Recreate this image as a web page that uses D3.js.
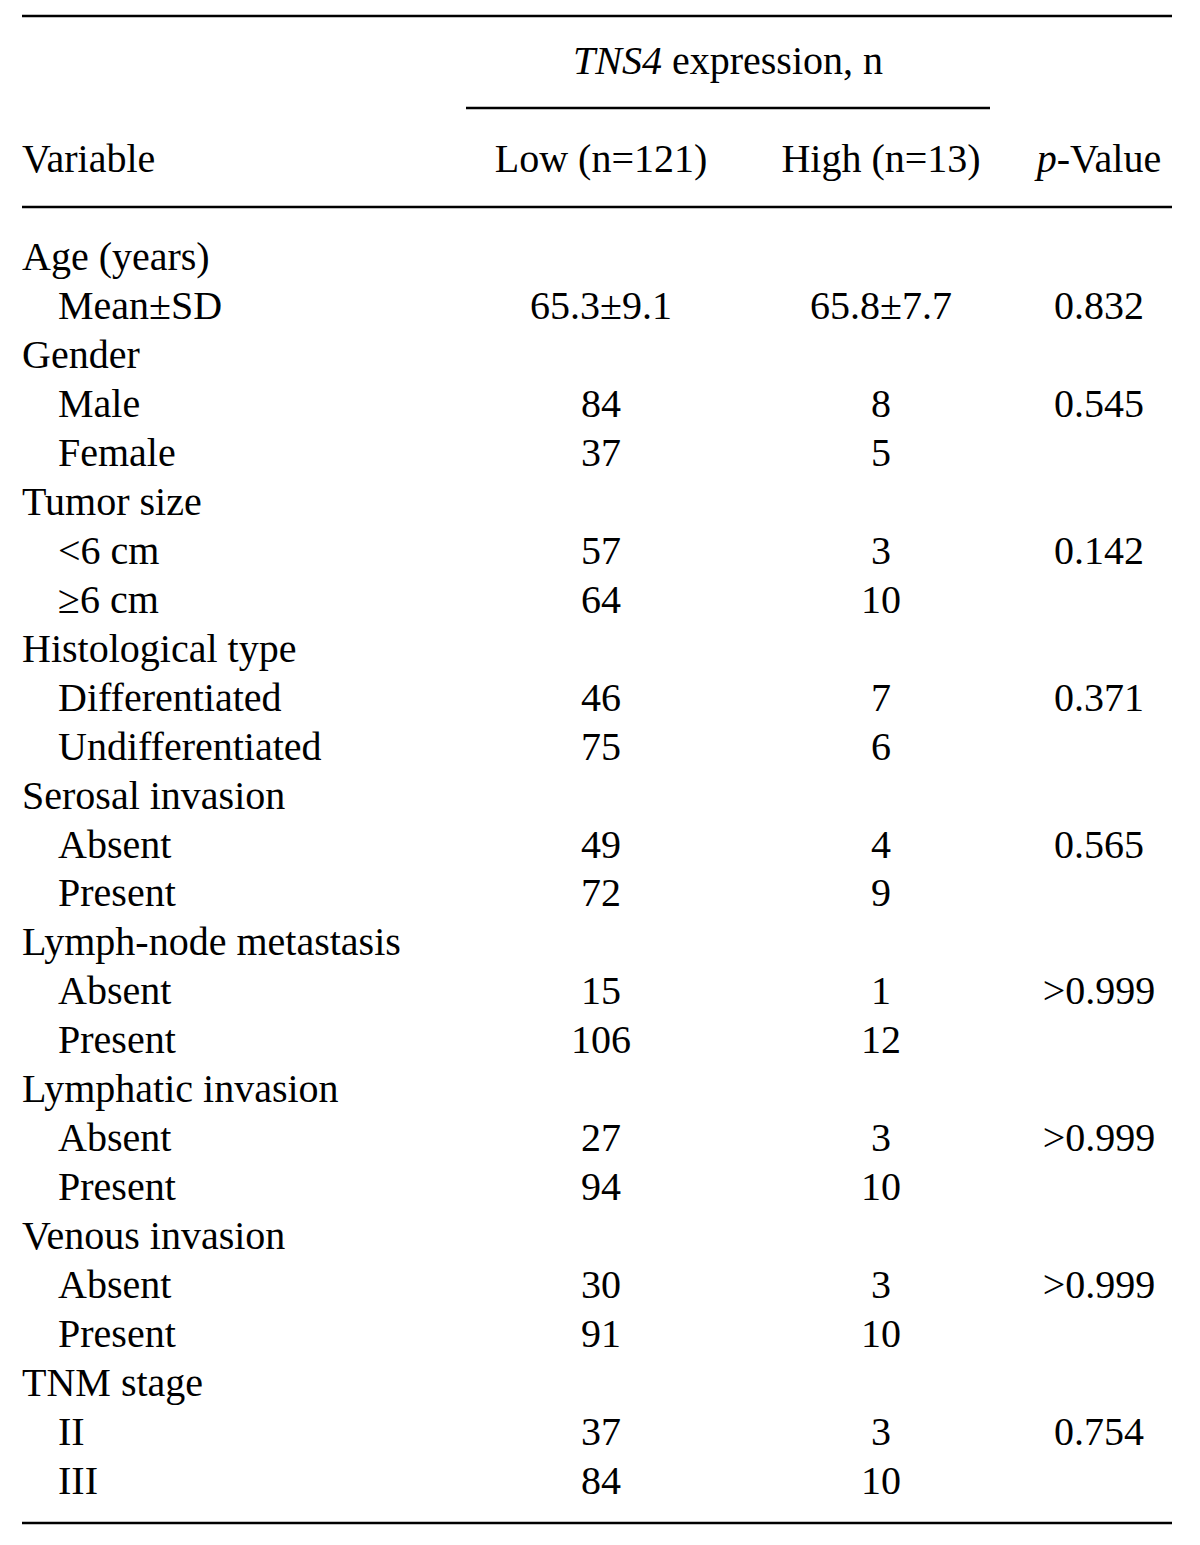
<!DOCTYPE html>
<html><head><meta charset="utf-8">
<script src="https://cdn.jsdelivr.net/npm/d3@7"></script>
<style>html,body{margin:0;padding:0;background:#fff;}svg{display:block;}</style>
</head><body>
<script>
const rowLabels = ["Age (years)","Mean±SD","Gender","Male","Female","Tumor size","<6 cm","≥6 cm","Histological type","Differentiated","Undifferentiated","Serosal invasion","Absent","Present","Lymph-node metastasis","Absent","Present","Lymphatic invasion","Absent","Present","Venous invasion","Absent","Present","TNM stage","II","III"];
const rowIsSub = [0,1,0,1,1,0,1,1,0,1,1,0,1,1,0,1,1,0,1,1,0,1,1,0,1,1];
const lowValues = ["","65.3±9.1","","84","37","","57","64","","46","75","","49","72","","15","106","","27","94","","30","91","","37","84"];
const highValues = ["","65.8±7.7","","8","5","","3","10","","7","6","","4","9","","1","12","","3","10","","3","10","","3","10"];
const pValues = ["","0.832","","0.545","","","0.142","","","0.371","","","0.565","","","&gt;0.999","","","&gt;0.999","","","&gt;0.999","","","0.754",""];
const colHeaders = ["Variable","Low (n=121)","High (n=13)","p-Value"];
const spanHeader = "TNS4 expression, n";

const W = 1200, H = 1545;
const svg = d3.select("body").append("svg").attr("width", W).attr("height", H);
const font = "'Liberation Serif','Times New Roman',Times,serif";
const fs = 40;

const y = d3.scalePoint().domain(d3.range(rowLabels.length)).range([270, 1494]);
const col = d3.scaleOrdinal().domain(["var","low","high","p"]).range([22, 601, 881, 1099]);

const lines = [
  {x1:22, x2:1172, y:16},
  {x1:466, x2:990, y:108},
  {x1:22, x2:1172, y:207},
  {x1:22, x2:1172, y:1523}
];
svg.selectAll("line.rule").data(lines).join("line").attr("class","rule")
  .attr("x1", d=>d.x1).attr("x2", d=>d.x2).attr("y1", d=>d.y).attr("y2", d=>d.y)
  .attr("stroke","#000").attr("stroke-width",2.5);

const g = svg.append("g").attr("font-family", font).attr("font-size", fs).attr("fill","#000");

// span header
const sh = g.append("text").attr("x", 728).attr("y", 74).attr("text-anchor","middle");
sh.append("tspan").attr("font-style","italic").text("TNS4");
sh.append("tspan").text(" expression, n");

// column headers
g.append("text").attr("x", col("var")).attr("y", 172).text(colHeaders[0]);
g.append("text").attr("x", col("low")).attr("y", 172).attr("text-anchor","middle").text(colHeaders[1]);
g.append("text").attr("x", col("high")).attr("y", 172).attr("text-anchor","middle").text(colHeaders[2]);
const ph = g.append("text").attr("x", col("p")).attr("y", 172).attr("text-anchor","middle");
ph.append("tspan").attr("font-style","italic").text("p");
ph.append("tspan").text("-Value");

const rows = g.selectAll("g.row").data(rowLabels.map((l,i)=>({l, i, sub: rowIsSub[i], low: lowValues[i], high: highValues[i], p: pValues[i]})))
  .join("g").attr("class","row").attr("transform", d=>`translate(0,${y(d.i)})`);
rows.append("text").attr("x", d=> d.sub ? col("var")+36 : col("var")).text(d=>d.l);
rows.append("text").attr("x", col("low")).attr("text-anchor","middle").text(d=>d.low);
rows.append("text").attr("x", col("high")).attr("text-anchor","middle").text(d=>d.high);
rows.append("text").attr("x", col("p")).attr("text-anchor","middle").html(d=>d.p);
</script>
</body></html>
